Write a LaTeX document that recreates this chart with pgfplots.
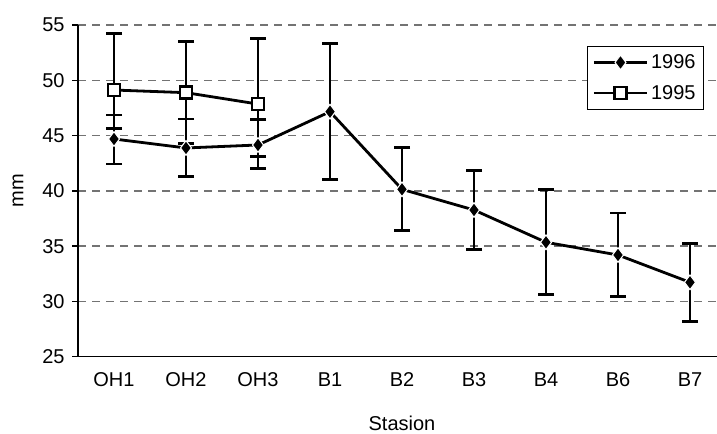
\documentclass[border=0pt]{standalone}
\usepackage{pgfplots}
\pgfplotsset{compat=1.18}
\usepackage{fontspec}
\setmainfont{Liberation Sans}

\begin{document}
\begin{tikzpicture}[font=\fontsize{15}{18}\selectfont]
  \begin{axis}[
    at={(58.5pt,57.2pt)}, anchor=south west,
    scale only axis,
    width=479.25pt, height=248.8pt,
    xmin=-0.5, xmax=8.375,
    ymin=25, ymax=55,
    axis x line*=bottom, axis y line*=left,
    axis line style={line width=1pt},
    ytick={25,30,...,55},
    ytick align=outside,
    major tick length=4.5pt,
    ytick style={black, line width=1pt},
    xtick={0,...,8},
    xticklabels={OH1,OH2,OH3,B1,B2,B3,B4,B6,B7},
    xtick style={draw=none},
    minor xtick={-0.5,0.5,...,7.5},
    minor tick length=9pt,
    xtick align=center,
    minor x tick style={black, line width=1pt},
    xticklabel style={yshift=-6pt},
    yticklabel style={xshift=-2pt},
    /pgf/number format/assume math mode=true,
    ymajorgrids,
    major grid style={black!55, line width=1pt, dash pattern=on 6pt off 4.5pt},
    xlabel={Stasion}, ylabel={mm},
    every axis x label/.style={at={(axis description cs:0.507,-0.2)}, anchor=center},
    every axis y label/.style={at={(axis description cs:-0.094,0.5)}, anchor=center, rotate=90},
    legend style={
      at={(0.9797,0.9367)}, anchor=north east,
      draw=black, line width=0.75pt, fill=white,
      row sep=7pt, inner ysep=4pt, inner xsep=4pt,
      font=\fontsize{15}{18}\selectfont},
    legend cell align=left,
    legend image code/.code={
      \draw[#1, line width=1.8pt, mark=none] (0pt,0pt) -- (40pt,0pt);
      \draw[#1] plot coordinates {(20pt,0pt)};},
    eb/.style={forget plot, black, line width=2.2pt, mark=none},
  ]
    % error bars 1996 (low, high)
    \addplot[eb] coordinates {(0,42.43) (0,46.86)};
    \addplot[eb] coordinates {(1,41.28) (1,46.50)};
    \addplot[eb] coordinates {(2,42.04) (2,46.47)};
    \addplot[eb] coordinates {(3,41.04) (3,53.34)};
    \addplot[eb] coordinates {(4,36.40) (4,43.88)};
    \addplot[eb] coordinates {(5,34.71) (5,41.80)};
    \addplot[eb] coordinates {(6,30.64) (6,40.10)};
    \addplot[eb] coordinates {(7,30.46) (7,38.00)};
    \addplot[eb] coordinates {(8,28.17) (8,35.28)};
    % error bars 1995 (low, high)
    \addplot[eb] coordinates {(0,45.65) (0,54.20)};
    \addplot[eb] coordinates {(1,44.28) (1,53.49)};
    \addplot[eb] coordinates {(2,43.09) (2,53.74)};
    % caps
    \addplot[forget plot, black, only marks, mark=-, mark size=6pt,
      mark options={line width=2.2pt, solid}]
      coordinates {
        (0,46.86) (0,42.43) (1,46.50) (1,41.28) (2,46.47) (2,42.04)
        (3,53.34) (3,41.04) (4,43.88) (4,36.40) (5,41.80) (5,34.71)
        (6,40.10) (6,30.64) (7,38.00) (7,30.46) (8,35.28) (8,28.17)
        (0,54.20) (0,45.65) (1,53.49) (1,44.28) (2,53.74) (2,43.09)
      };
    % 1996
    \addplot[black, line width=2.1pt, mark=diamond*,
      mark options={fill=black, draw=white, line width=0.8pt, mark size=5.5pt, solid}]
      coordinates {
        (0,44.69) (1,43.88) (2,44.15) (3,47.16) (4,40.14)
        (5,38.27) (6,35.35) (7,34.20) (8,31.73)
      };
    % 1995
    \addplot[black, line width=2.1pt, mark=square*,
      mark options={fill=white, draw=black, line width=1.8pt, mark size=4.5pt, solid}]
      coordinates {(0,49.12) (1,48.88) (2,47.85)};
    \legend{1996,1995}
  \end{axis}
  \pgfresetboundingbox
  \useasboundingbox (0pt,0pt) rectangle (537.75pt,324.75pt);
\end{tikzpicture}
\end{document}
